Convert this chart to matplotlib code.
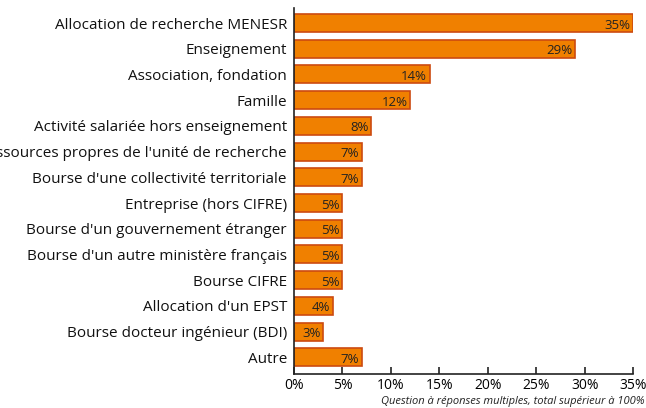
import matplotlib
matplotlib.use("Agg")
import matplotlib.pyplot as plt

categories = [
    "Allocation de recherche MENESR",
    "Enseignement",
    "Association, fondation",
    "Famille",
    "Activité salariée hors enseignement",
    "Ressources propres de l'unité de recherche",
    "Bourse d'une collectivité territoriale",
    "Entreprise (hors CIFRE)",
    "Bourse d'un gouvernement étranger",
    "Bourse d'un autre ministère français",
    "Bourse CIFRE",
    "Allocation d'un EPST",
    "Bourse docteur ingénieur (BDI)",
    "Autre",
]
values = [35, 29, 14, 12, 8, 7, 7, 5, 5, 5, 5, 4, 3, 7]
xticks = [0, 5, 10, 15, 20, 25, 30, 35]
note = "Question à réponses multiples, total supérieur à 100%"

plt.rcParams["font.family"] = ["Open Sans", "DejaVu Sans"]

fig = plt.figure(figsize=(6.46, 4.08), dpi=100)
ax = fig.add_axes([0.455, 0.0833, 0.525, 0.898])

pos = list(range(len(categories)))
ax.barh(pos, values, height=0.7, color="#f08000", edgecolor="#cc4a10", linewidth=1.2)

for y, v in zip(pos, values):
    ax.text(v - 0.25, y + 0.08, f"{v}%", ha="right", va="center", fontsize=9.5, color="#222222")

ax.set_ylim(13.65, -0.6)
ax.set_xlim(0, 35)
ax.set_yticks(pos)
ax.set_yticklabels(categories, fontsize=11, color="#111111")
ax.tick_params(axis="y", length=0, pad=5)
ax.set_xticks(xticks)
ax.set_xticklabels([f"{t}%" for t in xticks], fontsize=10)
ax.tick_params(axis="x", direction="in", length=5, width=1.2, color="#222222", pad=3)

for s in ["top", "right"]:
    ax.spines[s].set_visible(False)
for s in ["left", "bottom"]:
    ax.spines[s].set_linewidth(1.2)
    ax.spines[s].set_color("#222222")

fig.text(0.998, 0.002, note, ha="right", va="bottom", fontsize=8, style="italic", color="#222222")

fig.savefig("out.png", dpi=100)
